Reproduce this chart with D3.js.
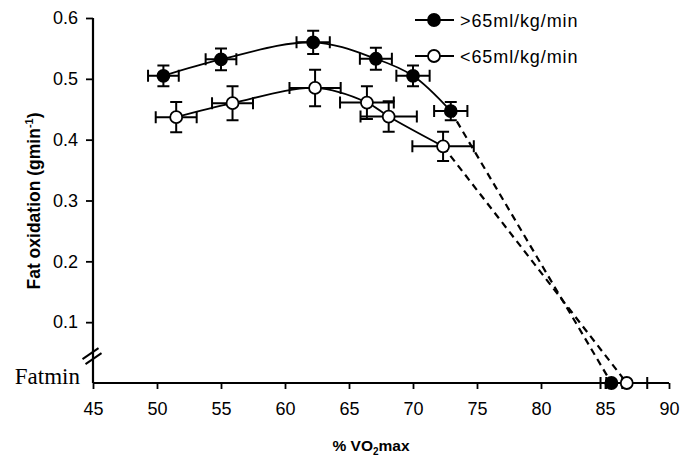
<!DOCTYPE html>
<html>
<head>
<meta charset="utf-8">
<script src="https://cdn.jsdelivr.net/npm/d3@7"></script>
<style>
  body { margin: 0; background: #fff; }
  svg { display: block; font-family: "Liberation Sans", Arial, sans-serif; }
</style>
</head>
<body>
<div id="chart"></div>
<script>
// Series names
var seriesNames = [">65ml/kg/min", "<65ml/kg/min"];

// >65 ml/kg/min group (filled circles)
var highX = [50.5, 55.0, 62.2, 67.1, 70.0, 72.95];
var highY = [0.505, 0.532, 0.56, 0.533, 0.505, 0.447];
var highXErr = [1.2, 1.2, 1.3, 1.25, 1.3, 1.3];
var highYErr = [0.017, 0.018, 0.019, 0.018, 0.017, 0.015];
var highFatminX = 85.5;
var highFatminErr = 0.85;

// <65 ml/kg/min group (open circles)
var lowX = [51.5, 55.9, 62.35, 66.4, 68.1, 72.35];
var lowY = [0.437, 0.46, 0.485, 0.461, 0.438, 0.389];
var lowXErr = [1.6, 1.6, 2.0, 2.1, 2.2, 2.4];
var lowYErr = [0.025, 0.028, 0.03, 0.027, 0.025, 0.024];
var lowFatminX = 86.7;
var lowFatminErr = 1.6;

// Axis ticks
var xTicks = [45, 50, 55, 60, 65, 70, 75, 80, 85, 90];
var yTicks = [0.1, 0.2, 0.3, 0.4, 0.5, 0.6];
var yBreakValue = 0.045;

var W = 689, H = 456;
var margin = { top: 18, right: 20, bottom: 73, left: 93 };
var width = 669 - margin.left;
var height = 383 - margin.top;

var svg = d3.select("#chart").append("svg")
    .attr("width", W)
    .attr("height", H);

var g = svg.append("g")
    .attr("transform", "translate(" + margin.left + "," + margin.top + ")");

var x = d3.scaleLinear().domain([45, 90]).range([0, width]);
var y = d3.scaleLinear().domain([0, 0.6]).range([height, 0]);

// build series
function makeSeries(xs, ys, xe, ye, fx, fe) {
    var pts = xs.map(function (d, i) { return { x: d, y: ys[i], xe: xe[i], ye: ye[i] }; });
    return { pts: pts, end: { x: fx, y: 0, xe: fe, ye: 0 } };
}
var series = [
    makeSeries(highX, highY, highXErr, highYErr, highFatminX, highFatminErr),
    makeSeries(lowX, lowY, lowXErr, lowYErr, lowFatminX, lowFatminErr)
];
var fills = ["#000", "#fff"];

// axes
var xAxis = g.append("g")
    .attr("transform", "translate(0," + height + ")")
    .call(d3.axisBottom(x).tickValues(xTicks).tickSize(6).tickPadding(13).tickSizeOuter(0));
var yAxis = g.append("g")
    .call(d3.axisLeft(y).tickValues(yTicks).tickFormat(d3.format(".1f")).tickSize(7).tickPadding(8).tickSizeOuter(0));

[xAxis, yAxis].forEach(function (a) {
    a.select(".domain").attr("stroke", "#000").attr("stroke-width", 2.2);
    a.selectAll(".tick line").attr("stroke", "#000").attr("stroke-width", 1.8);
    a.selectAll(".tick text").attr("fill", "#000").style("font-size", "18px")
        .style("font-family", "'Liberation Sans', Arial, sans-serif");
});
yAxis.select(".domain").attr("d", "M0," + y(0.6) + "V" + height);
xAxis.select(".domain").attr("d", "M0,0H" + width);

// "Fatmin" label at zero
g.append("text")
    .attr("x", -13)
    .attr("y", y(0) + 0.5)
    .attr("text-anchor", "end")
    .style("font-family", "'Liberation Serif', 'Times New Roman', serif")
    .style("font-size", "23px")
    .text("Fatmin");

// axis break marks
var by = y(yBreakValue);
g.selectAll(".brk").data([-2.5, 2.5]).enter().append("line")
    .attr("x1", function (d) { return -9 + d * 0.6; })
    .attr("y1", function (d) { return by + 6 + d; })
    .attr("x2", function (d) { return 7 + d * 0.6; })
    .attr("y2", function (d) { return by - 5 + d; })
    .attr("stroke", "#000")
    .attr("stroke-width", 2);

// error bars
var cap = 6;
series.forEach(function (s) {
    var all = s.pts.concat([s.end]);
    var eb = g.append("g").attr("stroke", "#000").attr("stroke-width", 2).attr("fill", "none");
    all.forEach(function (p) {
        var cx = x(p.x), cy = y(p.y);
        var x0 = x(p.x - p.xe), x1 = x(p.x + p.xe);
        eb.append("path").attr("d",
            "M" + x0 + "," + cy + "H" + x1 +
            "M" + x0 + "," + (cy - cap) + "V" + (cy + cap) +
            "M" + x1 + "," + (cy - cap) + "V" + (cy + cap));
        if (p.ye > 0) {
            var y0 = y(p.y - p.ye), y1 = y(p.y + p.ye);
            eb.append("path").attr("d",
                "M" + cx + "," + y0 + "V" + y1 +
                "M" + (cx - cap) + "," + y0 + "H" + (cx + cap) +
                "M" + (cx - cap) + "," + y1 + "H" + (cx + cap));
        }
    });
});

// fitted curves and dashed extrapolation
var curve = d3.line()
    .x(function (d) { return x(d.x); })
    .y(function (d) { return y(d.y); })
    .curve(d3.curveCatmullRom.alpha(0.5));
var straight = d3.line()
    .x(function (d) { return x(d.x); })
    .y(function (d) { return y(d.y); });

series.forEach(function (s) {
    g.append("path")
        .attr("d", curve(s.pts))
        .attr("fill", "none")
        .attr("stroke", "#000")
        .attr("stroke-width", 1.8);
    g.append("path")
        .attr("d", straight([s.pts[s.pts.length - 1], s.end]))
        .attr("fill", "none")
        .attr("stroke", "#000")
        .attr("stroke-width", 2.2)
        .attr("stroke-dasharray", "7,5");
});

// markers
series.forEach(function (s, i) {
    g.selectAll(".m" + i).data(s.pts.concat([s.end])).enter().append("circle")
        .attr("cx", function (d) { return x(d.x); })
        .attr("cy", function (d) { return y(d.y); })
        .attr("r", 6)
        .attr("fill", fills[i])
        .attr("stroke", "#000")
        .attr("stroke-width", 1.8);
});

// legend
var legend = svg.append("g");
var legY = [20, 56];
seriesNames.forEach(function (name, i) {
    var row = legend.append("g").attr("transform", "translate(0," + legY[i] + ")");
    row.append("line").attr("x1", 415).attr("x2", 454).attr("y1", 0).attr("y2", 0)
        .attr("stroke", "#000").attr("stroke-width", 1.8);
    row.append("circle").attr("cx", 434).attr("cy", 0).attr("r", 6)
        .attr("fill", fills[i]).attr("stroke", "#000").attr("stroke-width", 1.8);
    row.append("text").attr("x", 460).attr("y", 6.5)
        .style("font-size", "18px")
        .style("letter-spacing", "0.9px")
        .text(name);
});

// axis titles
var yl = svg.append("text")
    .attr("transform", "translate(39.5,201) rotate(-90)")
    .attr("text-anchor", "middle")
    .style("font-size", "17.5px")
    .style("font-weight", "bold");
yl.append("tspan").text("Fat oxidation (gmin");
yl.append("tspan").attr("dy", -7).style("font-size", "11px").text("-1");
yl.append("tspan").attr("dy", 7).text(")");

var xl = svg.append("text")
    .attr("x", 371)
    .attr("y", 451)
    .attr("text-anchor", "middle")
    .style("font-size", "15.5px")
    .style("font-weight", "bold");
xl.append("tspan").text("% VO");
xl.append("tspan").attr("dy", 4).style("font-size", "10px").text("2");
xl.append("tspan").attr("dy", -4).text("max");
</script>
</body>
</html>
